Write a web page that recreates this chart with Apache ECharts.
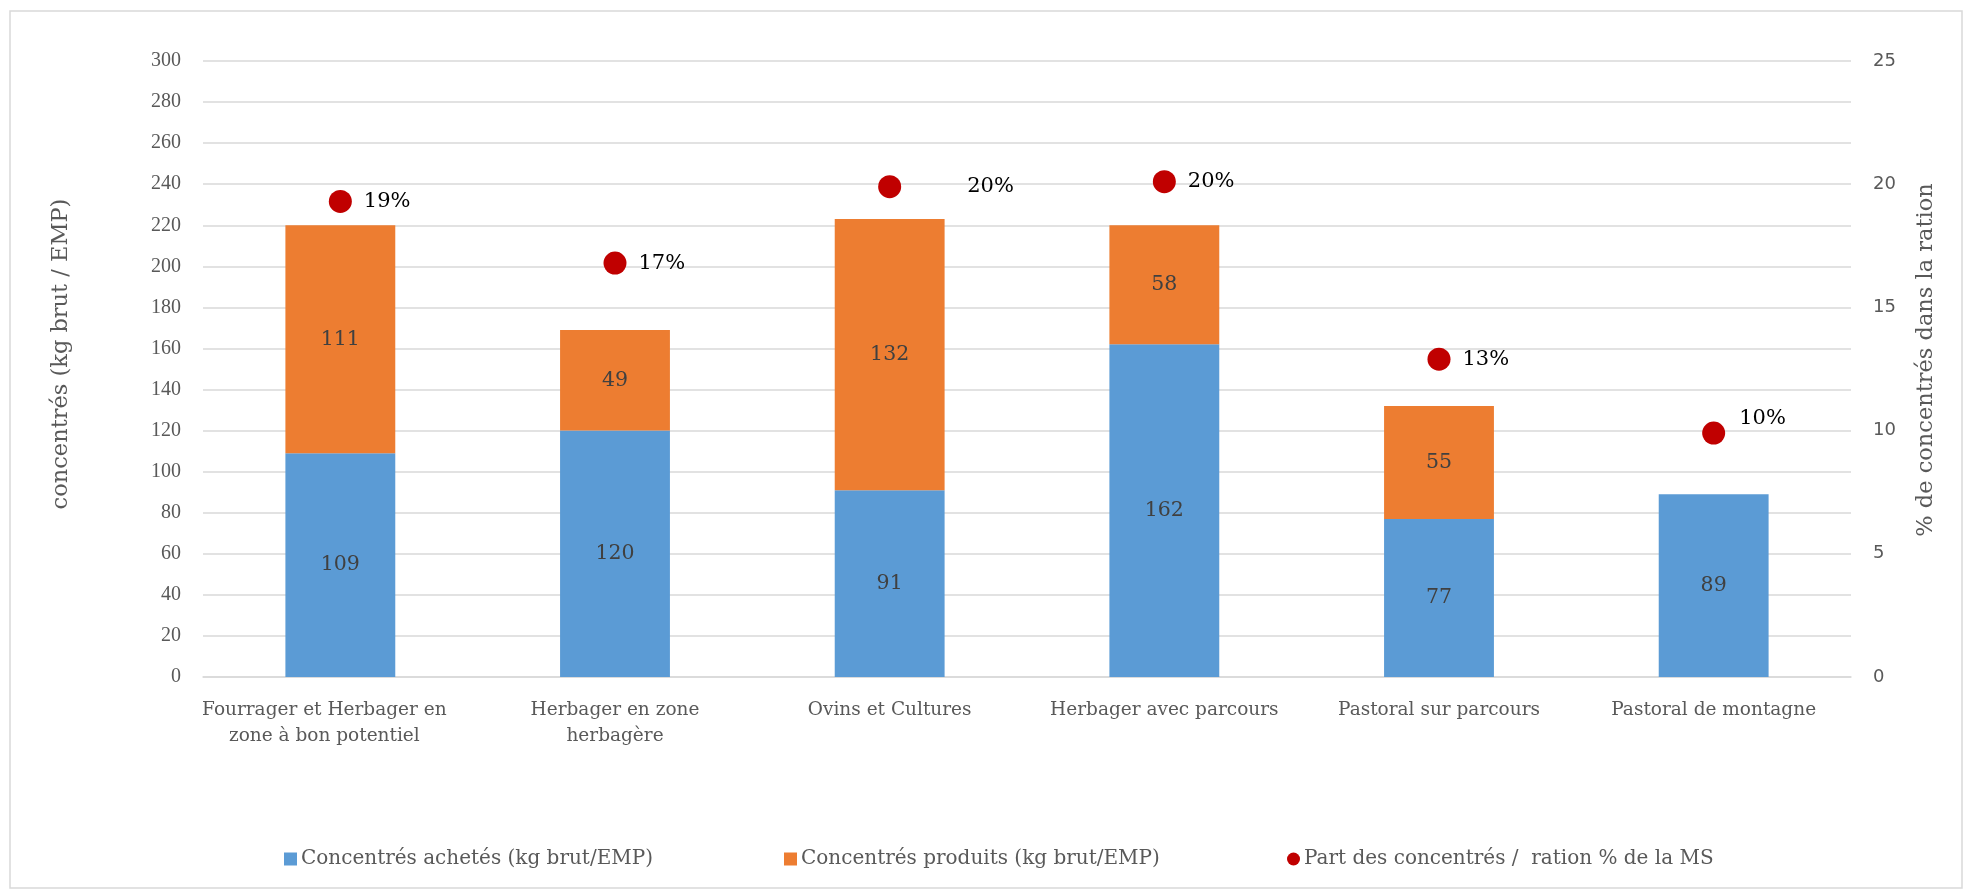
<!DOCTYPE html>
<html>
<head>
<meta charset="utf-8">
<script src="https://cdn.jsdelivr.net/npm/echarts@6/dist/echarts.min.js"></script>
<style>
  html, body { margin: 0; padding: 0; background: #fff; }
  #chart { width: 1973px; height: 895px; }
</style>
</head>
<body>
<div id="chart"></div>
<script>
  // catégories
  var categories = [
    'Fourrager et Herbager en\nzone à bon potentiel',
    'Herbager en zone\nherbagère',
    'Ovins et Cultures',
    'Herbager avec parcours',
    'Pastoral sur parcours',
    'Pastoral de montagne'
  ];
  // concentrés achetés / produits (kg brut/EMP)
  var achetes = [109, 120, 91, 162, 77, 89];
  var produits = [111, 49, 132, 58, 55, '-'];
  // part des concentrés dans la ration (% MS)
  var part = [19.3, 16.8, 19.9, 20.1, 12.9, 9.9];

  var leftTicks = {min: 0, max: 300, interval: 20};
  var rightTicks = {min: 0, max: 25, interval: 5};

  var serif = 'DejaVu Serif';
  var grey = '#595959';

  var nameAchetes = 'Concentrés achetés (kg brut/EMP)';
  var nameProduits = 'Concentrés produits (kg brut/EMP)';
  var namePart = 'Part des concentrés /  ration % de la MS';

  // positions des étiquettes (comme dans Excel, certaines déplacées à la main)
  var labelOffsets = [[0, 0], [0, 0], [54, 0], [0, 0], [0, 0], [2, -15]];

  var partData = part.map(function (v, i) {
    return {
      value: v,
      label: {offset: labelOffsets[i]}
    };
  });

  // la première étiquette de catégorie est décalée vers la gauche
  var catData = categories.map(function (c, i) {
    return i === 0 ? {value: c, textStyle: {padding: [0, 32, 0, 0]}} : c;
  });

  // une légende par série pour caler les positions
  function legendAt(left, name, icon) {
    return {
      bottom: 21,
      left: left,
      itemWidth: 13,
      itemHeight: 13,
      itemGap: 4,
      textStyle: {color: grey, fontSize: 20, fontFamily: serif, padding: [0, 0, 0, -1]},
      data: [{name: name, icon: icon}]
    };
  }

  var myChart = echarts.init(document.getElementById('chart'));
  myChart.setOption({
    backgroundColor: '#fff',
    animation: false,
    textStyle: {fontFamily: serif},
    graphic: [{
      type: 'rect',
      shape: {x: 10, y: 11, width: 1952, height: 877},
      style: {fill: 'none', stroke: '#d9d9d9', lineWidth: 1.5},
      silent: true
    }],
    grid: {left: 203, right: 122, top: 61, bottom: 218},
    legend: [
      legendAt(279, nameAchetes, 'rect'),
      legendAt(779, nameProduits, 'rect'),
      legendAt(1282, namePart, 'circle')
    ],
    xAxis: {
      type: 'category',
      data: catData,
      axisLine: {lineStyle: {color: '#d9d9d9', width: 1.5}},
      axisTick: {show: false},
      axisLabel: {color: grey, fontSize: 18.5, fontFamily: serif, lineHeight: 26, margin: 20, interval: 0}
    },
    yAxis: [{
      type: 'value',
      min: leftTicks.min,
      max: leftTicks.max,
      interval: leftTicks.interval,
      name: 'concentrés (kg brut / EMP)',
      nameLocation: 'middle',
      nameGap: 130,
      nameTextStyle: {color: grey, fontSize: 22.5, fontFamily: serif, padding: [0, 0, 0, 30]},
      axisLine: {show: false},
      axisTick: {show: false},
      axisLabel: {color: grey, fontSize: 20, fontFamily: 'Liberation Serif', margin: 22},
      splitLine: {lineStyle: {color: '#d9d9d9', width: 1.5}}
    }, {
      type: 'value',
      min: rightTicks.min,
      max: rightTicks.max,
      interval: rightTicks.interval,
      name: '% de concentrés dans la ration',
      nameLocation: 'middle',
      nameGap: 64,
      nameRotate: 90,
      nameTextStyle: {color: grey, fontSize: 22.5, fontFamily: serif, padding: [0, 0, 0, 18]},
      axisLine: {show: false},
      axisTick: {show: false},
      axisLabel: {color: grey, fontSize: 18, margin: 22, fontFamily: 'DejaVu Sans'},
      splitLine: {show: false}
    }],
    series: [{
      name: nameAchetes,
      type: 'bar',
      stack: 'conc',
      barWidth: '40%',
      itemStyle: {color: '#5B9BD5'},
      label: {show: true, position: 'inside', color: '#404040', fontSize: 20.5},
      data: achetes
    }, {
      name: nameProduits,
      type: 'bar',
      stack: 'conc',
      barWidth: '40%',
      itemStyle: {color: '#ED7D31'},
      label: {show: true, position: 'inside', color: '#404040', fontSize: 20.5},
      data: produits
    }, {
      name: namePart,
      type: 'scatter',
      yAxisIndex: 1,
      symbol: 'circle',
      symbolSize: 23,
      z: 5,
      itemStyle: {color: '#C00000', opacity: 1},
      label: {
        show: true,
        position: 'right',
        distance: 12,
        color: '#000',
        fontSize: 21,
        formatter: function (p) { return Math.round(p.value) + '%'; }
      },
      data: partData
    }]
  });
</script>
</body>
</html>
